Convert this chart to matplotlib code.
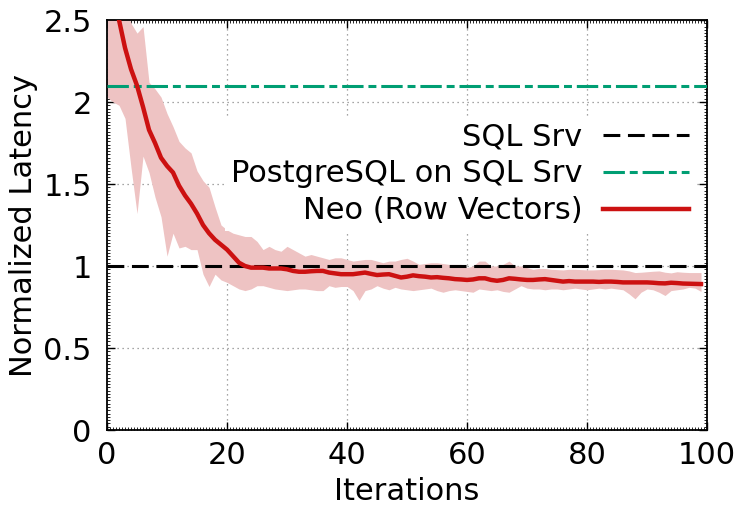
import numpy as np
import matplotlib
matplotlib.use("Agg")
import matplotlib.pyplot as plt
from matplotlib.ticker import MultipleLocator

iterations = list(range(100))

neo_mean = [2.95, 2.72, 2.50, 2.33, 2.20, 2.10, 1.97, 1.83, 1.75, 1.66,
            1.61, 1.57, 1.49, 1.43, 1.38, 1.32, 1.25, 1.20, 1.16, 1.13,
            1.10, 1.06, 1.02, 1.00, 0.99, 0.99, 0.99, 0.985, 0.985, 0.985,
            0.98, 0.97, 0.965, 0.965, 0.968, 0.97, 0.97, 0.96, 0.955, 0.95,
            0.95, 0.95, 0.955, 0.96, 0.952, 0.945, 0.948, 0.95, 0.94, 0.93,
            0.935, 0.943, 0.938, 0.935, 0.93, 0.932, 0.928, 0.925, 0.92, 0.918,
            0.915, 0.918, 0.925, 0.925, 0.915, 0.91, 0.915, 0.925, 0.922, 0.918,
            0.915, 0.915, 0.918, 0.92, 0.915, 0.91, 0.905, 0.908, 0.905, 0.905,
            0.905, 0.905, 0.903, 0.905, 0.905, 0.903, 0.90, 0.90, 0.90, 0.90,
            0.90, 0.898, 0.895, 0.894, 0.898, 0.896, 0.893, 0.892, 0.891, 0.89]

neo_upper = [3.20, 3.00, 2.75, 2.60, 2.48, 2.42, 2.46, 2.12, 2.08, 2.03,
             1.93, 1.85, 1.76, 1.72, 1.69, 1.58, 1.52, 1.48, 1.36, 1.25,
             1.22, 1.20, 1.19, 1.18, 1.18, 1.15, 1.10, 1.12, 1.10, 1.09,
             1.12, 1.10, 1.08, 1.06, 1.07, 1.06, 1.05, 1.04, 1.05, 1.05,
             1.04, 1.03, 1.035, 1.04, 1.04, 1.03, 1.02, 1.03, 1.03, 1.04,
             1.047, 1.03, 1.01, 1.015, 1.02, 1.02, 1.015, 1.01, 1.01, 1.01,
             0.99, 1.00, 1.03, 1.03, 1.00, 1.00, 1.01, 1.03, 1.00, 1.00,
             0.99, 0.98, 0.985, 0.985, 0.98, 0.978, 0.976, 0.98, 0.98, 0.978,
             0.976, 0.976, 0.978, 0.98, 0.98, 0.978, 0.976, 0.97, 0.96, 0.962,
             0.965, 0.968, 0.97, 0.962, 0.958, 0.965, 0.962, 0.96, 0.96, 0.96]

neo_lower = [2.03, 2.00, 1.98, 1.90, 1.60, 1.32, 1.67, 1.57, 1.42, 1.30,
             1.06, 1.20, 1.11, 1.12, 1.10, 1.10, 0.95, 0.875, 0.95, 0.915,
             0.90, 0.88, 0.86, 0.85, 0.86, 0.88, 0.88, 0.87, 0.86, 0.855,
             0.85, 0.855, 0.86, 0.86, 0.855, 0.85, 0.85, 0.88, 0.87, 0.875,
             0.875, 0.85, 0.79, 0.85, 0.86, 0.88, 0.865, 0.855, 0.87, 0.86,
             0.855, 0.85, 0.855, 0.86, 0.865, 0.85, 0.84, 0.85, 0.855, 0.85,
             0.845, 0.84, 0.86, 0.855, 0.85, 0.855, 0.845, 0.84, 0.86, 0.88,
             0.865, 0.86, 0.86, 0.855, 0.86, 0.86, 0.855, 0.86, 0.865, 0.86,
             0.855, 0.86, 0.865, 0.86, 0.865, 0.86, 0.855, 0.83, 0.80, 0.84,
             0.86, 0.855, 0.84, 0.82, 0.85, 0.855, 0.86, 0.87, 0.865, 0.845]

sql_srv = 1.0
postgres_on_sql_srv = 2.1

labels = ["SQL Srv", "PostgreSQL on SQL Srv", "Neo (Row Vectors)"]
x_ticks = [0, 20, 40, 60, 80, 100]
y_ticks = [0, 0.5, 1, 1.5, 2, 2.5]
y_tick_labels = ["0", "0.5", "1", "1.5", "2", "2.5"]

FS = 22
plt.rcParams['font.family'] = ['DejaVu Sans']
fig = plt.figure(figsize=(7.5, 5.09), dpi=100)
ax = fig.add_axes([0.1427, 0.1552, 0.8, 0.8055])

ax.fill_between(iterations, neo_lower, neo_upper, color='#eec3c3', lw=0, zorder=1)
l1 = ax.axhline(sql_srv, color='black', lw=2.2, dashes=(5.5, 2.5), zorder=3)
l2 = ax.axhline(postgres_on_sql_srv, color='#009e73', lw=2.2, dashes=(7, 1.6, 2.6, 1.6), zorder=3)
l3, = ax.plot(iterations, neo_mean, color='#cc1111', lw=3.2, zorder=4)

ax.set_xlim(0, 100)
ax.set_ylim(0, 2.5)
ax.set_xticks(x_ticks)
ax.set_yticks(y_ticks)
ax.set_yticklabels(y_tick_labels)
ax.xaxis.set_minor_locator(MultipleLocator(0.5))
ax.yaxis.set_minor_locator(MultipleLocator(0.02))
ax.tick_params(which='major', direction='in', length=6, width=1, top=True, right=True,
               labelsize=FS)
ax.tick_params(axis='x', which='major', pad=8)
ax.tick_params(axis='y', which='major', pad=11)
ax.tick_params(which='minor', direction='in', length=2.5, width=0.6, top=True, right=True)
for s in ax.spines.values():
    s.set_linewidth(1.3)
ax.grid(True, which='major', color='#888888', ls=(0, (1, 3)), lw=0.9, zorder=0)
ax.set_axisbelow(True)

ax.set_xlabel("Iterations", fontsize=FS, labelpad=5)
ax.set_ylabel("Normalized Latency", fontsize=FS, labelpad=4)

leg = ax.legend([l1, l2, l3], labels, loc='upper right', bbox_to_anchor=(0.98, 0.765),
                markerfirst=False, fontsize=FS, frameon=True, fancybox=False,
                handlelength=2.8, handletextpad=0.68, labelspacing=0.26,
                borderpad=0.2, borderaxespad=0)
leg.get_frame().set_facecolor('white')
leg.get_frame().set_edgecolor('none')
leg.get_frame().set_alpha(1)
for t in leg.get_texts():
    t.set_ha('right')

fig.savefig("out.png", dpi=100)
